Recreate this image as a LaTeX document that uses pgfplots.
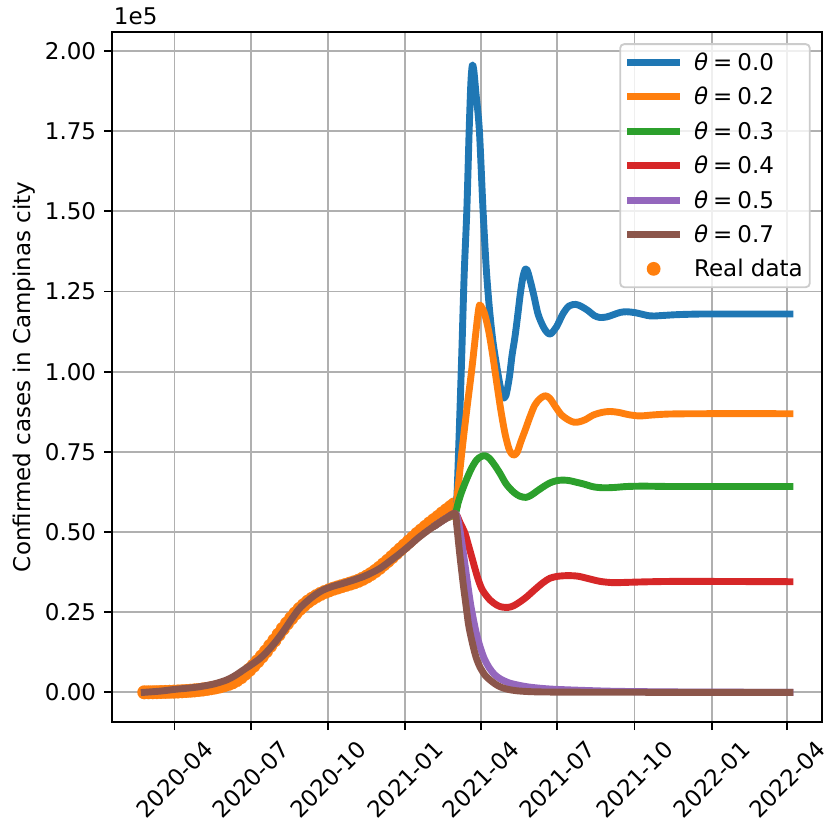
\documentclass[border=0pt]{standalone}
\usepackage{fontspec}
\setmainfont{DejaVu Sans}
\usepackage{pgfplots}
\usepackage{pgfplotstable}
\pgfplotsset{compat=1.18}
\definecolor{c0}{HTML}{1F77B4}
\definecolor{c1}{HTML}{FF7F0E}
\definecolor{c2}{HTML}{2CA02C}
\definecolor{c3}{HTML}{D62728}
\definecolor{c4}{HTML}{9467BD}
\definecolor{c5}{HTML}{8C564B}
\definecolor{gridc}{HTML}{B0B0B0}
\definecolor{legc}{HTML}{CCCCCC}
\newcommand{\fs}{\fontsize{23}{27.6}\selectfont}

% real data (cumulative confirmed cases)
\pgfplotstableread{
day cases
55 0
60 10
65 30
70 60
75 90
80 120
85 160
90 200
95 260
100 330
105 410
110 500
115 610
120 740
125 900
130 1080
135 1300
140 1550
145 1850
150 2200
155 2600
160 3100
165 3800
170 4700
175 5800
180 7000
185 8300
190 9700
195 11200
200 12800
205 14500
210 16200
215 18000
220 19800
225 21500
230 23100
235 24600
240 26000
245 27200
250 28300
255 29200
260 30000
265 30700
270 31300
275 31800
280 32300
285 32700
290 33100
295 33500
300 33900
305 34300
310 34800
315 35400
320 36100
325 36900
330 37800
335 38800
340 39900
345 41000
350 42200
355 43400
360 44600
365 45800
370 47000
375 48200
380 49400
385 50500
390 51600
395 52700
400 53700
405 54700
410 55800
415 56800
420 57800
424 58600
}\realdata

% theta = 0.7 (includes the common fitted part)
\pgfplotstableread{
day cases
55 0
75 400
92 940
107 1300
121 1750
138 2600
153 3840
163 5200
173 6960
183 8700
193 10600
203 13200
213 16300
223 19900
232.5 23600
240 26200
248.5 28300
258 30300
268 31900
280 33100
292 34000
304 35000
316 36100
326 37300
336 38700
348 41000
360 43400
371 45800
381 48100
392 50300
403 52300
414 54200
425.1 55800
427 52500
429 47500
431 42500
433 38000
435 33500
437 29500
439 25500
441 21500
443 18700
445 16300
448 13000
451 10300
455 7800
461 5300
467 3800
473 2600
479 1700
487 1000
498 500
515 200
540 80
600 20
700 0
824 0
}\thseven

\pgfplotstableread{
day cases
403 52300
414 54200
425.1 55800
427.2 60000
430 80000
433 104000
436 130000
439.2 150400
442 175400
444 190000
445.7 195500
447.5 194000
450 187000
454.1 175400
458.5 150400
462.4 132000
466 120000
470 110000
474 103000
477.5 97500
480.5 93500
483 91800
486 92800
490 98500
493 105000
496.6 111000
500 118000
503 124500
506 129500
509 132000
512 131000
518.4 124500
524 118000
530.3 114000
535 112200
539.1 111800
546 114000
554 118200
561 120500
569 121000
576 120300
583.9 119000
591 117500
597.9 116900
606 117100
614 117800
622 118500
629.6 118700
640 118400
657.4 117400
670 117500
690 117800
720 118000
760 118000
824 118000
}\thzero

\pgfplotstableread{
day cases
403 52300
414 54200
425.1 55800
428 62000
431 69400
435 79000
440 90000
445 100500
449 110000
452 117000
454.3 120800
457 120000
460 118400
465 113000
470 105200
475 96200
480 87500
485 80300
490 75500
494.6 74000
499 74800
504 78500
509 82000
514.5 86000
520 89500
526 91500
532.3 92500
538 91700
545 89000
552 86500
560 85000
566 84300
572 84300
580 85000
590 86500
600 87300
609.7 87600
620 87300
632 86600
645 86200
660 86500
680 86800
720 86900
824 86900
}\thtwo

\pgfplotstableread{
day cases
403 52300
414 54200
425.1 55800
428.7 59000
433 62500
439 66500
445 70000
451 72500
456 73500
460.9 73800
466 73000
472 71000
478.7 68300
486 65000
494.6 62500
502 61200
509.7 60800
516 61500
523 62800
530.3 64100
538 65300
546 66000
554 66200
562 66000
570 65500
578 65000
590 64100
601.8 63800
615 63900
630 64200
650 64300
680 64200
720 64200
824 64200
}\ththree

\pgfplotstableread{
day cases
403 52300
414 54200
425.1 55800
431 53000
437 49600
441 46000
445 42300
449 38500
453 35000
458 31800
466.8 28800
475 27200
481 26600
488.6 26500
495 27000
503 28300
510.6 29800
520 32000
530 34200
538.3 35600
548 36200
560 36400
572 36200
585 35400
598 34600
613.6 34200
630 34300
660 34500
700 34600
824 34500
}\thfour

\pgfplotstableread{
day cases
403 52300
414 54200
425.1 55800
428 54500
431 50500
435 43500
439 36000
444 27000
450 19000
455 14200
460 10500
466 7600
472 5600
479 4200
490 2900
505 2000
518 1500
540 1000
578 600
620 300
700 100
824 0
}\thfive

\begin{document}
\begin{tikzpicture}
\begin{axis}[
  scale only axis,
  width=709.4pt, height=690.3pt,
  xmin=16.9, xmax=861.9,
  ymin=-9260, ymax=206050,
  clip mode=individual,
  clip marker paths=true,
  axis line style={line width=1.84pt},
  tick style={line width=1.84pt, black},
  tick align=outside,
  major tick length=8pt,
  xtick pos=bottom, ytick pos=left,
  xtick={91,182,274,366,456,547,639,731,821},
  xticklabels={2020-04,2020-07,2020-10,2021-01,2021-04,2021-07,2021-10,2022-01,2022-04},
  ytick={0,25000,50000,75000,100000,125000,150000,175000,200000},
  yticklabels={0.00,0.25,0.50,0.75,1.00,1.25,1.50,1.75,2.00},
  scaled y ticks=false, scaled x ticks=false,
  grid=major,
  grid style={color=gridc, line width=1.84pt},
  tick label style={font=\fs},
  yticklabel style={anchor=east, inner sep=0pt, xshift=-8pt},
  xticklabel style={inner sep=0pt, anchor=center, yshift=-49.5pt, rotate=45},
  legend image code/.code={\draw[#1, line cap=rect] (0pt,0pt) -- (46pt,0pt);},
  legend cell align=left,
  legend style={at={(rel axis cs:1,1)}, anchor=north east, xshift=-11pt, yshift=-11.5pt,
    draw=legc, line width=1.84pt, rounded corners=4pt, fill=white, fill opacity=0.8,
    text opacity=1, font=\fs, inner xsep=7pt, inner ysep=5pt,
    row sep=7.7pt, column sep=14pt,
    nodes={inner sep=0pt, text height=21.3pt, text depth=5.4pt}},
  every axis plot/.append style={line width=6.9pt, line cap=rect, line join=round},
]
\addplot[only marks, mark=*, mark size=6.9pt, draw=c1, fill=c1,
  mark options={solid, draw=c1, fill=c1, line width=0.1pt, opacity=1, fill opacity=1}, forget plot]
  table[x=day, y=cases] {\realdata};
\addplot[c0, smooth, tension=0.5] table[x=day, y=cases] {\thzero};
\addlegendentry{\textit{θ}\kern5pt=\kern5pt0.0}
\addplot[c1, smooth, tension=0.5] table[x=day, y=cases] {\thtwo};
\addlegendentry{\textit{θ}\kern5pt=\kern5pt0.2}
\addplot[c2, smooth, tension=0.5] table[x=day, y=cases] {\ththree};
\addlegendentry{\textit{θ}\kern5pt=\kern5pt0.3}
\addplot[c3, smooth, tension=0.5] table[x=day, y=cases] {\thfour};
\addlegendentry{\textit{θ}\kern5pt=\kern5pt0.4}
\addplot[c4, smooth, tension=0.5] table[x=day, y=cases] {\thfive};
\addlegendentry{\textit{θ}\kern5pt=\kern5pt0.5}
\addplot[c5, smooth, tension=0.5] table[x=day, y=cases] {\thseven};
\addlegendentry{\textit{θ}\kern5pt=\kern5pt0.7}
\addlegendimage{legend image code/.code={\path[draw=none, fill=none] (0pt,0pt) -- (46pt,0pt); \fill[c1, draw=none, fill opacity=1] (23pt,0pt) circle (6.9pt);}}
\addlegendentry{Real data}
\node[anchor=base west, inner sep=0pt, font=\fs] at ([xshift=1.5pt, yshift=6.7pt]rel axis cs:0,1) {1e5};
\node[rotate=90, anchor=center, inner sep=0pt, font=\fs] at ([xshift=-88.3pt]rel axis cs:0,0.5) {Confirmed cases in Campinas city};
\coordinate (ll) at (rel axis cs:0,0);
\end{axis}
\pgfresetboundingbox
\path[use as bounding box] ([shift={(-112.3pt,-101pt)}]ll) rectangle ++(824pt,823pt);
\end{tikzpicture}
\end{document}
